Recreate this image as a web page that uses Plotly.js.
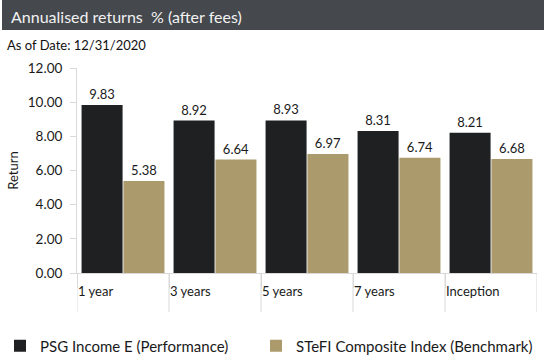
<!DOCTYPE html>
<html>
<head>
<meta charset="utf-8">
<script src="https://cdn.plot.ly/plotly-3.0.1.min.js"></script>
<style>html,body{margin:0;padding:0;background:#fff;}#chart{width:544px;height:358px;}</style>
</head>
<body>
<div id="chart"></div>
<script>
const categories = ["1 year", "3 years", "5 years", "7 years", "Inception"];
const fundName = "PSG Income E (Performance)";
const benchName = "STeFI Composite Index (Benchmark)";
const fundValues = [9.83, 8.92, 8.93, 8.31, 8.21];
const benchValues = [5.38, 6.64, 6.97, 6.74, 6.68];
const yTicks = [0, 2, 4, 6, 8, 10, 12];

const W = 544, H = 358;
const M = {l: 77, r: 7, t: 68, b: 85};
const PW = W - M.l - M.r, PH = H - M.t - M.b;
const FONT = "Lato, 'Liberation Sans', Arial, sans-serif";
const xs = categories.map((c, i) => i);

const px2x = p => (p - M.l) / PW;
const py2y = p => (H - M.b - p) / PH;

const traces = [
  {type: "bar", name: fundName, x: xs, y: fundValues, legend: "legend",
   marker: {color: "#1f2022"},
   text: fundValues.map(v => v.toFixed(2)), textposition: "outside",
   textfont: {family: FONT, size: 13, color: "#1a1a1a"}, cliponaxis: false,
   hoverinfo: "none"},
  {type: "bar", name: benchName, x: xs, y: benchValues, legend: "legend2",
   marker: {color: "#ab9a6c"},
   text: benchValues.map(v => v.toFixed(2)), textposition: "outside",
   textfont: {family: FONT, size: 13, color: "#1a1a1a"}, cliponaxis: false,
   hoverinfo: "none"}
];

const boundaries = categories.map((c, i) => i - 0.5).concat([categories.length - 0.5]);
const shapes = [
  {type: "rect", xref: "paper", yref: "paper", x0: px2x(2), x1: px2x(545), y0: py2y(30), y1: py2y(-1),
   fillcolor: "#45484d", line: {width: 0}, layer: "below"}
].concat(boundaries.map(b => ({
  type: "line", xref: "x", yref: "paper", x0: b, x1: b, y0: 0, y1: py2y(312),
  line: {color: "#d9d9d9", width: 1}
})));

const legendBase = {orientation: "h", xref: "container", yref: "container", y: 1 - 346 / H,
  xanchor: "left", yanchor: "middle", font: {family: FONT, size: 15, color: "#1a1a1a"},
  itemwidth: 30, bgcolor: "rgba(0,0,0,0)"};

const layout = {
  width: W, height: H,
  margin: M,
  paper_bgcolor: "#ffffff", plot_bgcolor: "#ffffff",
  font: {family: FONT, size: 13, color: "#1a1a1a"},
  barmode: "group", bargap: 0.09, bargroupgap: 0.02,
  showlegend: true,
  legend: Object.assign({}, legendBase, {x: 0}),
  legend2: Object.assign({}, legendBase, {x: 256 / W}),
  xaxis: {type: "linear", range: [-0.5, categories.length - 0.5], tickvals: boundaries.slice(0, -1),
          ticktext: categories, ticks: "outside", ticklen: 14, tickcolor: "#d9d9d9",
          ticklabelposition: "outside right", ticklabelstandoff: 6,
          showline: true, linecolor: "#d9d9d9", linewidth: 1,
          showgrid: false, zeroline: false, tickfont: {family: FONT, size: 13, color: "#1a1a1a"},
          fixedrange: true},
  yaxis: {range: [0, 12], tickvals: yTicks, tickformat: ".2f", ticks: "outside", ticklen: 6,
          tickcolor: "#d9d9d9", showline: true, linecolor: "#d9d9d9", linewidth: 1,
          showgrid: false, zeroline: false, ticklabelstandoff: 5,
          tickfont: {family: FONT, size: 13.5, color: "#1a1a1a"},
          title: {text: "Return", font: {family: FONT, size: 13, color: "#1a1a1a"}, standoff: 6},
          fixedrange: true},
  shapes: shapes,
  annotations: [
    {text: "Annualised returns  % (after fees)", xref: "paper", yref: "paper", x: px2x(9), y: py2y(16),
     xanchor: "left", yanchor: "middle", showarrow: false, font: {family: FONT, size: 16, color: "#f2f2f2"}},
    {text: "As of Date: 12/31/2020", xref: "paper", yref: "paper", x: px2x(5), y: py2y(45),
     xanchor: "left", yanchor: "middle", showarrow: false, font: {family: FONT, size: 13, color: "#111111"}}
  ]
};

Plotly.newPlot("chart", traces, layout, {displayModeBar: false, staticPlot: true});
</script>
</body>
</html>
